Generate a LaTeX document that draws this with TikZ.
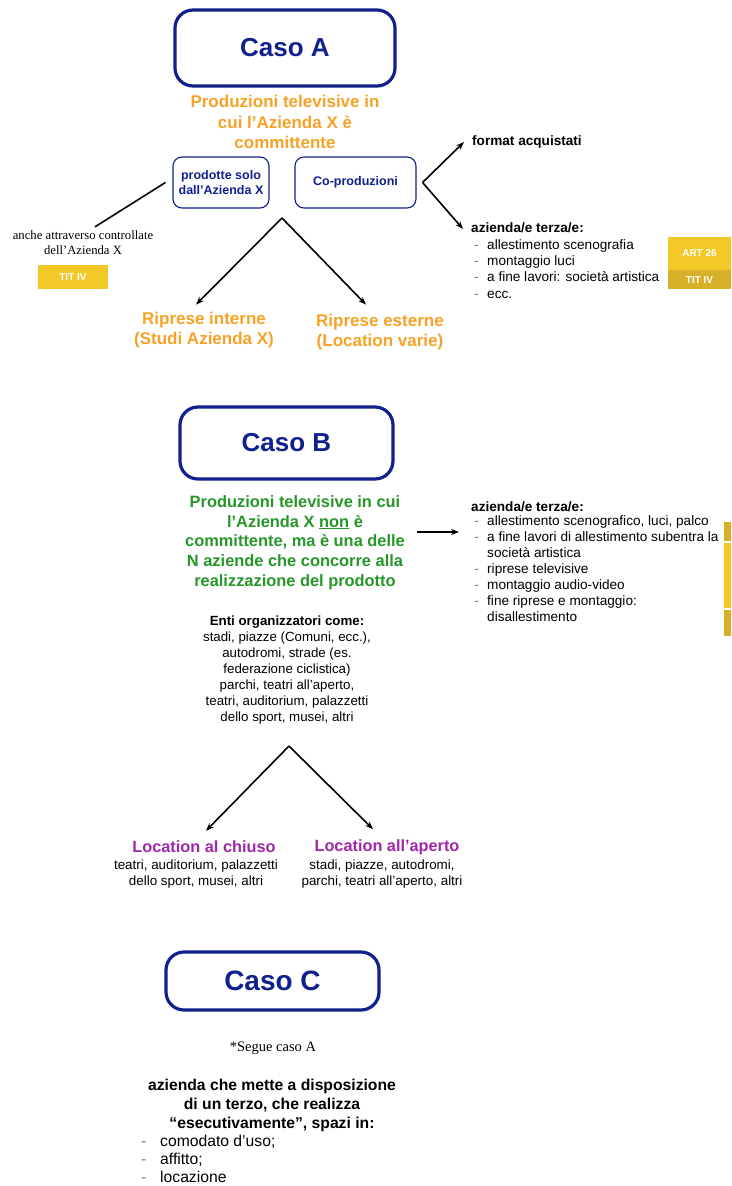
\documentclass[tikz,border=0pt]{standalone}
\usepackage{fontspec}
\setmainfont{Liberation Sans}
\newfontfamily\timesfont{Liberation Serif}
\usetikzlibrary{arrows.meta, positioning}

\definecolor{casoblu}{RGB}{16,32,140}
\definecolor{arancio}{RGB}{246,162,38}
\definecolor{verde}{RGB}{38,150,40}
\definecolor{viola}{RGB}{158,40,168}
\definecolor{giallo}{RGB}{242,200,38}
\definecolor{giallosc}{RGB}{214,176,40}
\definecolor{trattgrigio}{RGB}{120,120,120}

\newcommand{\fsz}[2]{\fontsize{#1}{#2}\selectfont}
\newcommand{\trattino}{\makebox[13pt][l]{\textcolor{trattgrigio}{-}}}

\tikzset{
  caso/.style={draw=casoblu, line width=3.2pt, rounded corners=18pt, text=casoblu,
    font=\fsz{26}{30}\bfseries, minimum width=220pt, minimum height=76pt, inner sep=0pt},
  riquadro/.style={draw=casoblu, line width=1.1pt, rounded corners=9pt, text=casoblu,
    font=\fsz{12.5}{15.5}\bfseries, align=center, minimum height=51pt, inner sep=0pt},
  titolo/.style={align=center, font=\fsz{17}{20.5}\bfseries, inner sep=0pt},
  voce/.style={anchor=west, inner sep=0pt, font=\fsz{13.6}{16.5},
    text height=10pt, text depth=3pt},
  freccia/.style={-{Stealth[length=8pt,width=6pt]}, line width=1.6pt},
  linea/.style={line width=1.6pt},
  etichetta/.style={fill=#1, text=white, font=\fsz{10}{12}\bfseries, inner sep=0pt},
}

\begin{document}
\begin{tikzpicture}[x=1pt, y=-1pt]
\useasboundingbox (0,0) rectangle (731,1186);

% Caso A
\node[caso] (casoA) at (285,48) {Caso A};
\node[titolo, text=arancio] (titoloA) at (285,122) {Produzioni televisive in\\cui l’Azienda X è\\committente};
\node[riquadro, minimum width=96pt] (prodotte) at (221,182.5) {prodotte solo\\dall’Azienda X};
\node[riquadro, minimum width=121pt] (copro) at (355.5,182.5) {Co-produzioni};

\node[font=\timesfont\fsz{12.7}{15}, align=center, inner sep=0pt] (anche) at (83,243) {anche attraverso controllate\\dell’Azienda X};
\node[etichetta=giallo, minimum width=70pt, minimum height=24pt] (titIVa) at (73,277) {TIT IV};
\draw[linea] ([xshift=-7pt]prodotte.west) -- ([shift={(12pt,4pt)}]anche.north);

\coordinate (verticeA) at (282,218);
\node[titolo, text=arancio] (ripInt) at (204,330) {Riprese interne\\(Studi Azienda X)};
\node[titolo, text=arancio] (ripEst) at (380,332) {Riprese esterne\\(Location varie)};
\draw[freccia] (verticeA) -- ([shift={(-8pt,7pt)}]ripInt.north);
\draw[freccia] (verticeA) -- ([shift={(-14pt,9pt)}]ripEst.north);

\coordinate (forcaA) at ([xshift=6pt]copro.east);
\node[voce, font=\fsz{13.6}{16.5}\bfseries] (formatA) at (472,142) {format acquistati};
\node[voce, font=\fsz{13.6}{16.5}\bfseries] (terzaA) at (471,229) {azienda/e terza/e:};
\draw[freccia] (forcaA) -- ([xshift=-8pt]formatA.west);
\draw[freccia] (forcaA) -- ([xshift=-8pt]terzaA.west);
\foreach \y/\t [count=\i] in {246/{allestimento scenografia}, 262/{montaggio luci}, 278/{a fine lavori: società artistica}, 295/{ecc.}}
  \node[voce] (voceA-\i) at (474,\y) {\trattino\t};

\node[etichetta=giallo, minimum width=63pt, minimum height=33pt] (art26) at (699.5,253.5) {ART 26};
\node[etichetta=giallosc, minimum width=63pt, minimum height=19pt, below=0pt of art26] (titIVb) {TIT IV};

% Caso B
\node[caso, minimum width=213pt, minimum height=72pt] (casoB) at (286.5,443) {Caso B};
\node[titolo, text=verde, font=\fsz{16.4}{19.7}\bfseries] (titoloB) at (295,542.5) {Produzioni televisive in cui\\l’Azienda X \underline{non} è\\committente, ma è una delle\\N aziende che concorre alla\\realizzazione del prodotto};

\coordinate (codaB) at (417,532);
\coordinate (puntaB) at (459,532);
\draw[freccia] (codaB) -- (puntaB);
\node[voce, font=\fsz{13.6}{16.5}\bfseries] (terzaB) at (471,508) {azienda/e terza/e:};
\foreach \y/\d/\t [count=\i] in {522/1/{allestimento scenografico, luci, palco}, 538/1/{a fine lavori di allestimento subentra la}, 554/0/{società artistica}, 570/1/{riprese televisive}, 586/1/{montaggio audio-video}, 602/1/{fine riprese e montaggio:}, 618/0/{disallestimento}}
  \node[voce] (voceB-\i) at (474,\y) {\ifnum\d=1 \trattino\else\hspace*{13pt}\fi\t};

\fill[giallosc] (724,522) rectangle (731,541);
\fill[giallo] (724,543) rectangle (731,608);
\fill[giallosc] (724,610) rectangle (731,636);

\node[align=center, inner sep=0pt, font=\fsz{13.3}{16}] (enti) at (287,670) {\textbf{Enti organizzatori come:}\\stadi, piazze (Comuni, ecc.),\\autodromi, strade (es.\\federazione ciclistica)\\parchi, teatri all’aperto,\\teatri, auditorium, palazzetti\\dello sport, musei, altri};

\coordinate (verticeB) at (289,746);
\node[titolo, text=viola, font=\fsz{16.3}{19}\bfseries] (chiuso) at (204,847) {Location al chiuso};
\node[align=center, inner sep=0pt, font=\fsz{13.4}{16}] (chiusoTesto) at (196,874) {teatri, auditorium, palazzetti\\dello sport, musei, altri};
\node[titolo, text=viola, font=\fsz{16.3}{19}\bfseries] (aperto) at (387,847) {Location all’aperto};
\node[align=center, inner sep=0pt, font=\fsz{13.4}{16}] (apertoTesto) at (382,874) {stadi, piazze, autodromi,\\parchi, teatri all’aperto, altri};
\draw[freccia] (verticeB) -- ([shift={(2pt,10pt)}]chiuso.north);
\draw[freccia] (verticeB) -- ([shift={(-14pt,10pt)}]aperto.north);

% Caso C
\node[caso, minimum width=213pt, minimum height=58pt, font=\fsz{28}{32}\bfseries] (casoC) at (272.5,981) {Caso C};
\node[font=\timesfont\fsz{14.5}{17}, inner sep=0pt] (segue) at (273,1048) {*Segue caso A};
\node[align=center, inner sep=0pt, font=\fsz{15.7}{19}\bfseries] (spazi) at (272,1105) {azienda che mette a disposizione\\di un terzo, che realizza\\“esecutivamente”, spazi in:};
\foreach \y/\t [count=\i] in {1143/{comodato d’uso;}, 1161/{affitto;}, 1179/{locazione}}
  \node[voce, font=\fsz{15.7}{18}, text height=11pt, text depth=3.5pt] (voceC-\i) at (141,\y) {\makebox[19pt][l]{\textcolor{trattgrigio}{-}}\t};
\end{tikzpicture}
\end{document}
